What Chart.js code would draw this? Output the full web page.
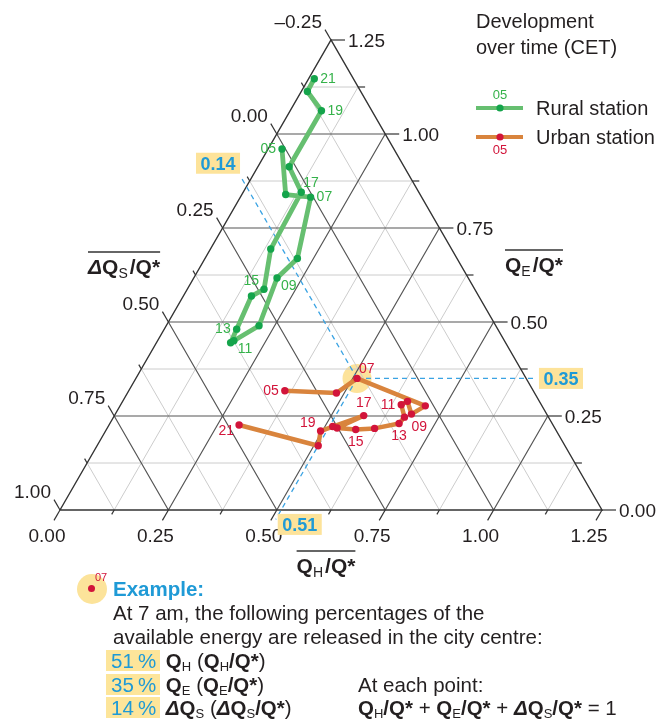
<!DOCTYPE html>
<html>
<head>
<meta charset="utf-8">
<script src="https://cdn.jsdelivr.net/npm/chart.js@4.4.0/dist/chart.umd.min.js"></script>
<style>
  body { margin: 0; background: #fff; }
  #wrap { position: relative; width: 670px; height: 724px; overflow: hidden; }
  #chartBox { position: absolute; left: 0; top: 0; width: 670px; height: 724px; }
  .ln { position: absolute; left: 113px; font-family: 'Liberation Sans', Arial, sans-serif; font-size: 20.5px;
        line-height: 24px; color: #231f20; white-space: nowrap; }
  .ln b { font-weight: bold; }
  .ln sub { font-size: 13px; font-weight: normal; vertical-align: -3px; line-height: 0; }
  .ex { color: #1f9ad6; font-weight: bold; font-size: 20.5px; }
  .pct { display: inline-block; background: #fde59a; color: #1f9ad6; padding: 0 4px 0 5px; line-height: 21px; }
  .mark { position: absolute; left: 77px; top: 574px; width: 30px; height: 30px; border-radius: 50%; background: #fce39a; }
  .markdot { position: absolute; left: 88px; top: 585px; width: 7px; height: 7px; border-radius: 50%; background: #d2143a; }
  .marknum { position: absolute; left: 95px; top: 571px; font: 11px 'Liberation Sans', Arial, sans-serif; color: #d2143a; }
</style>
</head>
<body>
<div id="wrap">
  <div id="chartBox"><canvas id="chart"></canvas></div>
  <div class="mark"></div>
  <div class="markdot"></div>
  <div class="marknum" id="markNum"></div>
  <div class="ln ex" style="top:577px">Example:</div>
  <div class="ln" style="top:601px">At 7 am, the following percentages of the</div>
  <div class="ln" style="top:625px">available energy are released in the city centre:</div>
  <div class="ln" style="top:649px; left:106px"><span class="pct" id="pctH"></span> <b>Q<sub>H</sub></b> (<b>Q<sub>H</sub>/Q*</b>)</div>
  <div class="ln" style="top:673px; left:106px"><span class="pct" id="pctE"></span> <b>Q<sub>E</sub></b> (<b>Q<sub>E</sub>/Q*</b>)</div>
  <div class="ln" style="top:696px; left:106px"><span class="pct" id="pctS"></span> <b><i>Δ</i>Q<sub>S</sub></b> (<b><i>Δ</i>Q<sub>S</sub>/Q*</b>)</div>
  <div class="ln" style="top:673px; left:358px">At each point:</div>
  <div class="ln" style="top:696px; left:358px"><b>Q<sub>H</sub>/Q*</b> + <b>Q<sub>E</sub>/Q*</b> + <b><i>Δ</i>Q<sub>S</sub>/Q*</b> = 1</div>
</div>
<script>
// hourly values (CET), fractions of Q*; ΔQs/Q* = 1 - QH - QE
const hours = ['05', '06', '07', '08', '09', '10', '11', '12', '13', '14', '15', '16', '17', '18', '19', '20', '21'];
const ruralQH = [0.032, 0.101, 0.162, 0.213, 0.192, 0.214, 0.176, 0.171, 0.167, 0.157, 0.177, 0.139, 0.134, 0.072, 0.072, 0.014, 0.013];
const ruralQE = [0.960, 0.839, 0.832, 0.669, 0.617, 0.490, 0.450, 0.445, 0.481, 0.569, 0.587, 0.694, 0.845, 0.913, 1.062, 1.113, 1.147];
const urbanQH = [0.360, 0.482, 0.510, 0.704, 0.683, 0.657, 0.647, 0.671, 0.667, 0.617, 0.575, 0.530, 0.575, 0.518, 0.496, 0.510, 0.300];
const urbanQE = [0.317, 0.311, 0.350, 0.277, 0.255, 0.289, 0.280, 0.247, 0.230, 0.217, 0.214, 0.218, 0.251, 0.222, 0.210, 0.171, 0.226];
const labelHours = ['05', '07', '09', '11', '13', '15', '17', '19', '21'];

// axis ticks: each axis spans 1.25 (QH, QE 0..1.25, ΔQs -0.25..1.00)
const SPAN = 1.25;
const gridSteps = [0, 0.125, 0.25, 0.375, 0.5, 0.625, 0.75, 0.875, 1, 1.125, 1.25];

// worked example (urban station, 07)
const exampleHour = '07';
const exampleQH = 0.51;
const exampleQE = 0.35;
const exampleQS = 0.14;

// where each hour label sits next to its point
const ruralLabelSide = { '05': 'left', '07': 'right', '09': 'belowRight', '11': 'belowRight', '13': 'left', '15': 'aboveLeft', '17': 'aboveRight', '19': 'right', '21': 'right' };
const urbanLabelSide = { '05': 'left', '07': 'aboveRight', '09': 'belowRight2', '11': 'left', '13': 'below', '15': 'below', '17': 'above', '19': 'aboveLeft', '21': 'belowLeft' };

const SQ = Math.sqrt(3) / 2;
const FONT = "'Liberation Sans', Arial, Helvetica, sans-serif";
const INK = '#231f20';
const GREEN_LINE = '#66bf70';
const GREEN_DOT = '#14a44b';
const GREEN_TXT = '#35b24a';
const ORANGE = '#d9843d';
const RED = '#d2143a';
const BLUE = '#1f9ad6';
const YELLOW = '#fde39a';

const tern = (qh, qe) => ({ x: qh + qe / 2, y: qe * SQ });
const isMajor = (c) => Math.abs(c / 0.25 - Math.round(c / 0.25)) < 1e-6;
const fmt = (v) => (v < -1e-9 ? '\u2013' + Math.abs(v).toFixed(2) : Math.abs(v).toFixed(2));
const GAP = { x: null, y: null };

// grid lines as line segments
const minorGrid = [];
const majorGrid = [];
gridSteps.slice(1, -1).forEach((c) => {
  const target = isMajor(c) ? majorGrid : minorGrid;
  target.push(tern(0, c), tern(SPAN - c, c), GAP); // QE const
  target.push(tern(c, 0), tern(c, SPAN - c), GAP); // QH const
  target.push(tern(0, c), tern(c, 0), GAP); // ΔQs const
});
const edges = [tern(0, 0), tern(SPAN, 0), tern(0, SPAN), tern(0, 0)];

// dashed guides from the example point to the three axes (slightly past the edges)
const over = 0.025;
const guides = [
  tern(exampleQH, exampleQE), tern(SPAN - exampleQE + over, exampleQE), GAP,
  tern(exampleQH, exampleQE), tern(exampleQH, -over), GAP,
  tern(exampleQH, exampleQE), tern(-over, 1 - exampleQS + over),
];

const SIDES = {
  left: [-6, 0, 'right'],
  right: [6, 0, 'left'],
  above: [0, -12, 'center'],
  below: [0, 13, 'center'],
  aboveLeft: [-5, -8, 'right'],
  aboveRight: [2, -9, 'left'],
  belowLeft: [-5, 6, 'right'],
  belowRight: [4, 8, 'left'],
  belowRight2: [0, 13, 'left'],
};

const drawRich = (ctx, parts, x, y, align) => {
  let w = 0;
  parts.forEach((p) => { ctx.font = p.f; p.w = ctx.measureText(p.t).width + (p.pad || 0); w += p.w; });
  let cx = align === 'center' ? x - w / 2 : x;
  const x0 = cx;
  parts.forEach((p) => { ctx.font = p.f; ctx.fillText(p.t, cx, y + (p.dy || 0)); cx += p.w; });
  return { x0, w };
};

const titleParts = (sub, delta) => {
  const parts = [];
  if (delta) parts.push({ t: '\u0394', f: `italic bold 21px ${FONT}` });
  parts.push({ t: 'Q', f: `bold 21px ${FONT}` });
  parts.push({ t: sub, f: `14px ${FONT}`, dy: 4, pad: 2 });
  parts.push({ t: '/', f: `bold 21px ${FONT}` });
  parts.push({ t: 'Q*', f: `bold 21px ${FONT}` });
  return parts;
};

const decor = {
  id: 'decor',
  afterDatasetsDraw(chart) {
    const { ctx } = chart;
    const xs = chart.scales.x;
    const ys = chart.scales.y;
    const px = (qh, qe) => {
      const p = tern(qh, qe);
      return [xs.getPixelForValue(p.x), ys.getPixelForValue(p.y)];
    };
    ctx.save();
    ctx.strokeStyle = '#333';
    ctx.lineWidth = 1.2;
    ctx.fillStyle = INK;
    ctx.font = `19px ${FONT}`;
    ctx.textBaseline = 'alphabetic';

    gridSteps.forEach((c) => {
      const major = isMajor(c);
      // QH ticks on the base
      let [bx, by] = px(c, 0);
      let L = major ? 12 : 5;
      let ex = bx - 0.5 * L;
      let ey = by + SQ * L;
      ctx.beginPath(); ctx.moveTo(bx, by); ctx.lineTo(ex, ey); ctx.stroke();
      if (major) { ctx.textAlign = 'center'; ctx.fillText(fmt(c), ex - 7, ey + 22); }
      // QE ticks on the right side
      [bx, by] = px(SPAN - c, c);
      L = major ? 14 : 7;
      ctx.beginPath(); ctx.moveTo(bx, by); ctx.lineTo(bx + L, by); ctx.stroke();
      if (major) { ctx.textAlign = 'left'; ctx.fillText(fmt(c), bx + L + 3, by + 7); }
      // ΔQs ticks on the left side
      [bx, by] = px(0, c);
      L = major ? 12 : 5;
      ex = bx - 0.5 * L;
      ey = by - SQ * L;
      ctx.beginPath(); ctx.moveTo(bx, by); ctx.lineTo(ex, ey); ctx.stroke();
      if (major) { ctx.textAlign = 'right'; ctx.fillText(fmt(1 - c), ex - 3, ey - 2); }
    });

    // axis titles with overline
    ctx.textAlign = 'left';
    const overline = (r, base) => {
      ctx.beginPath(); ctx.lineWidth = 1.3; ctx.moveTo(r.x0, base - 22); ctx.lineTo(r.x0 + r.w, base - 22); ctx.stroke();
    };
    overline(drawRich(ctx, titleParts('S', true), 88, 274, 'left'), 274);
    overline(drawRich(ctx, titleParts('E', false), 505, 272, 'left'), 272);
    overline(drawRich(ctx, titleParts('H', false), 326, 573, 'center'), 573);

    // guide value boxes
    const box = (txt, x, y, align) => {
      ctx.font = `bold 18px ${FONT}`;
      const w = ctx.measureText(txt).width + 9;
      const left = align === 'right' ? x - w : x;
      ctx.fillStyle = YELLOW;
      ctx.fillRect(left, y - 10.5, w, 21);
      ctx.fillStyle = BLUE;
      ctx.textAlign = 'left';
      ctx.fillText(txt, left + 4.5, y + 6.5);
    };
    const gMeta = chart.getDatasetMeta(chart.data.datasets.findIndex((d) => d.id === 'guides')).data;
    box(exampleQE.toFixed(2), gMeta[1].x + 2, gMeta[1].y, 'left');
    box(exampleQH.toFixed(2), gMeta[4].x + 2, gMeta[4].y + 5, 'left');
    box(exampleQS.toFixed(2), gMeta[7].x - 1, gMeta[7].y - 14, 'right');

    // hour labels
    const labelSet = (id, sides, color) => {
      const meta = chart.getDatasetMeta(chart.data.datasets.findIndex((d) => d.id === id));
      ctx.font = `14px ${FONT}`;
      ctx.fillStyle = color;
      ctx.textBaseline = 'middle';
      labelHours.forEach((h) => {
        const el = meta.data[hours.indexOf(h)];
        const [dx, dy, al] = SIDES[sides[h]];
        ctx.textAlign = al;
        ctx.fillText(h, el.x + dx, el.y + dy);
      });
    };
    labelSet('rural', ruralLabelSide, GREEN_TXT);
    labelSet('urban', urbanLabelSide, RED);

    // legend
    ctx.textBaseline = 'alphabetic';
    ctx.textAlign = 'left';
    ctx.fillStyle = INK;
    ctx.font = `20px ${FONT}`;
    ctx.fillText('Development', 476, 28);
    ctx.fillText('over time (CET)', 476, 54);
    const legendRow = (y, line, dot, txtColor, label, numDy) => {
      ctx.strokeStyle = line; ctx.lineWidth = 4;
      ctx.beginPath(); ctx.moveTo(476, y); ctx.lineTo(523, y); ctx.stroke();
      ctx.fillStyle = dot;
      ctx.beginPath(); ctx.arc(500, y, 3.6, 0, Math.PI * 2); ctx.fill();
      ctx.fillStyle = txtColor; ctx.font = `13px ${FONT}`; ctx.textAlign = 'center'; ctx.textBaseline = 'middle';
      ctx.fillText('05', 500, y + numDy);
      ctx.fillStyle = INK; ctx.font = `20px ${FONT}`; ctx.textAlign = 'left'; ctx.textBaseline = 'alphabetic';
      ctx.fillText(label, 536, y + 7);
    };
    legendRow(108, GREEN_LINE, GREEN_DOT, GREEN_TXT, 'Rural station', -13);
    legendRow(137, ORANGE, RED, RED, 'Urban station', 13);
    ctx.restore();
  },
};

const lineSet = (id, data, color, width, order, dash) => ({
  id, data, order, showLine: true, borderColor: color, borderWidth: width, borderDash: dash || [],
  pointRadius: 0, clip: false, spanGaps: false, tension: 0,
});

const ex = hours.indexOf(exampleHour);
const datasets = [
  { id: 'highlight', data: [tern(urbanQH[ex], urbanQE[ex])], order: 100, pointRadius: 14.5,
    pointBackgroundColor: YELLOW, pointBorderWidth: 0, clip: false },
  lineSet('minor', minorGrid, '#cccccc', 1, 90),
  lineSet('major', majorGrid, '#555', 1.2, 80),
  lineSet('edges', edges, '#333', 1.4, 70),
  lineSet('guides', guides, '#3aa3e3', 1.3, 60, [5, 4]),
  { id: 'rural', data: hours.map((h, i) => tern(ruralQH[i], ruralQE[i])), order: 20, showLine: true,
    borderColor: GREEN_LINE, borderWidth: 4.8, borderJoinStyle: 'round', borderCapStyle: 'round',
    pointRadius: 3.7, pointBackgroundColor: GREEN_DOT, pointBorderWidth: 0, clip: false, tension: 0 },
  { id: 'urban', data: hours.map((h, i) => tern(urbanQH[i], urbanQE[i])), order: 10, showLine: true,
    borderColor: ORANGE, borderWidth: 4.5, borderJoinStyle: 'round', borderCapStyle: 'round',
    pointRadius: 3.7, pointBackgroundColor: RED, pointBorderWidth: 0, clip: false, tension: 0 },
];

new Chart(document.getElementById('chart'), {
  type: 'scatter',
  data: { datasets },
  options: {
    responsive: true,
    maintainAspectRatio: false,
    devicePixelRatio: 1,
    animation: false,
    events: [],
    layout: { padding: { left: 60, right: 68, top: 40, bottom: 214 } },
    scales: {
      x: { type: 'linear', display: false, min: 0, max: SPAN },
      y: { type: 'linear', display: false, min: 0, max: SPAN * SQ },
    },
    plugins: { legend: { display: false }, tooltip: { enabled: false } },
  },
  plugins: [decor],
});

// example text values
const pct = (v) => Math.round(v * 100) + '\u2009%';
document.getElementById('pctH').textContent = pct(exampleQH);
document.getElementById('pctE').textContent = pct(exampleQE);
document.getElementById('pctS').textContent = pct(exampleQS);
document.getElementById('markNum').textContent = exampleHour;
</script>
</body>
</html>
